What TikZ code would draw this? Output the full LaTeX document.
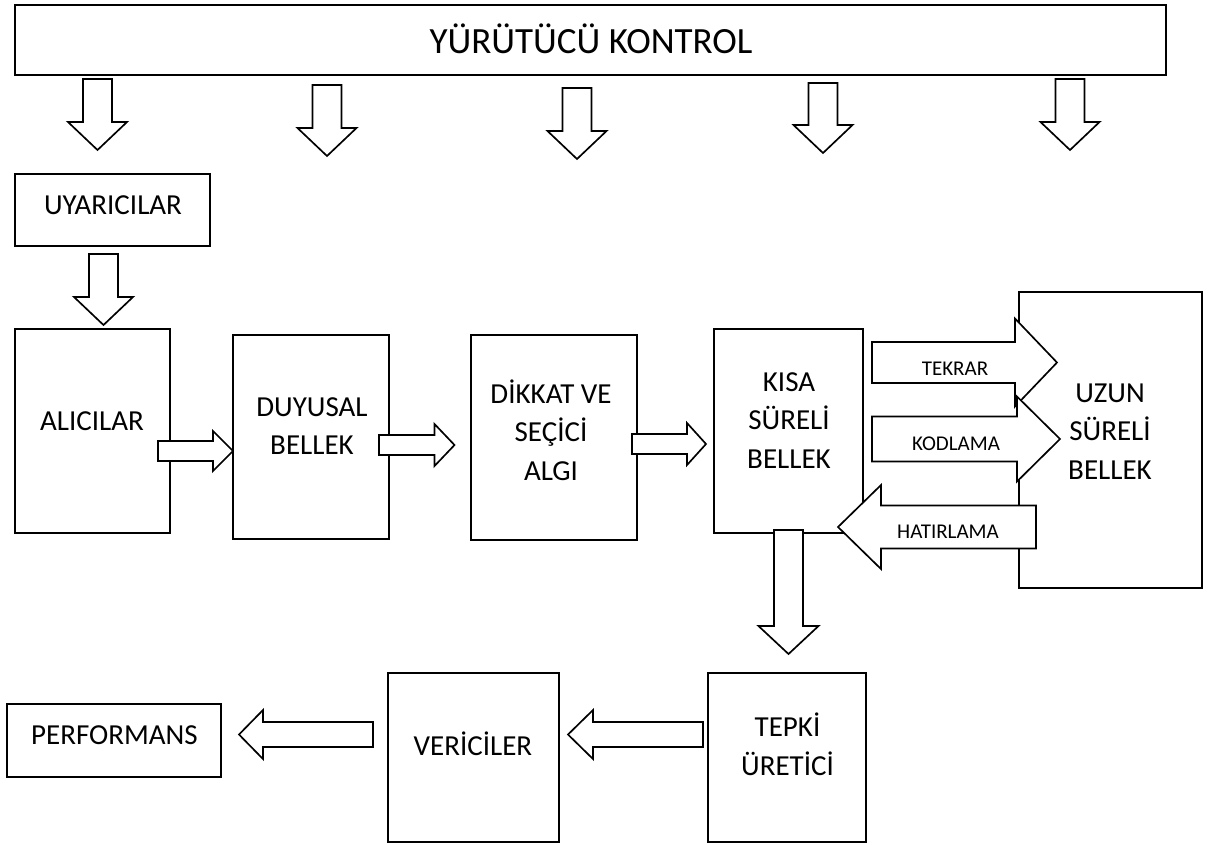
\documentclass[tikz,border=0pt]{standalone}
\usepackage{fontspec}
\setmainfont{Carlito}
\usetikzlibrary{calc,fit}
\begin{document}
\begin{tikzpicture}[x=0.75pt, y=-0.75pt,
  box/.style={draw, line width=1.7pt, inner sep=0pt, outer sep=0pt},
  blk/.style={draw, fill=white, line width=1.25pt, line join=miter},
  % block arrow pointing down: half shaft, half head, head length (px)
  dblk/.style n args={3}{blk, to path={let \p1=(\tikztostart), \p2=(\tikztotarget) in
     (\x1-#1*0.75pt,\y1) -- (\x1+#1*0.75pt,\y1) -- (\x1+#1*0.75pt,\y2+#3*0.75pt)
     -- (\x1+#2*0.75pt,\y2+#3*0.75pt) -- (\x1,\y2) -- (\x1-#2*0.75pt,\y2+#3*0.75pt)
     -- (\x1-#1*0.75pt,\y2+#3*0.75pt) -- cycle}},
  % block arrow pointing right
  rblk/.style n args={3}{blk, to path={let \p1=(\tikztostart), \p2=(\tikztotarget) in
     (\x1,\y1+#1*0.75pt) -- (\x2-#3*0.75pt,\y1+#1*0.75pt) -- (\x2-#3*0.75pt,\y1+#2*0.75pt)
     -- (\x2,\y1) -- (\x2-#3*0.75pt,\y1-#2*0.75pt) -- (\x2-#3*0.75pt,\y1-#1*0.75pt)
     -- (\x1,\y1-#1*0.75pt) -- cycle}},
  % block arrow pointing left
  lblk/.style n args={3}{blk, to path={let \p1=(\tikztostart), \p2=(\tikztotarget) in
     (\x1,\y1+#1*0.75pt) -- (\x2+#3*0.75pt,\y1+#1*0.75pt) -- (\x2+#3*0.75pt,\y1+#2*0.75pt)
     -- (\x2,\y1) -- (\x2+#3*0.75pt,\y1-#2*0.75pt) -- (\x2+#3*0.75pt,\y1-#1*0.75pt)
     -- (\x1,\y1-#1*0.75pt) -- cycle}},
  body/.style={font=\fontsize{21.75pt}{28.875pt}\selectfont, align=center, inner sep=0pt},
  head/.style={font=\fontsize{27.75pt}{36.6pt}\selectfont, inner sep=0pt},
  small/.style={font=\fontsize{15.75pt}{20.8pt}\selectfont, inner sep=0pt}
]
\useasboundingbox (0,0) rectangle (1219,844);

% boxes
\node[box, fit={(15,5) (1166,75)}] (ctrl) {};
\node[box, fit={(15,174) (210,246)}] (uyar) {};
\node[box, fit={(15,329) (170,533)}] (alic) {};
\node[box, fit={(233,335) (389,539)}] (duy) {};
\node[box, fit={(471,335) (637,540)}] (dik) {};
\node[box, fit={(714,329) (863,533)}] (kisa) {};
\node[box, fit={(1019,292) (1202,588)}] (uzun) {};
\node[box, fit={(708,673) (866,842)}] (tepki) {};
\node[box, fit={(388,673) (559,842)}] (veri) {};
\node[box, fit={(7,704) (221,777)}] (perf) {};

% box texts
\node[head] (ctrl-t) at (591,44) {\strut YÜRÜTÜCÜ KONTROL};
\node[body] (uyar-t) at (113,206.5) {\strut UYARICILAR};
\node[body] (alic-t) at (92,422.5) {\strut ALICILAR};
\node[body] (duy-t) at (312,427.7) {\strut DUYUSAL\\\strut BELLEK};
\node[body] (dik-t) at (551,434) {\strut DİKKAT VE\\\strut SEÇİCİ\\\strut ALGI};
\node[body] (kisa-t) at (789,422) {\strut KISA\\\strut SÜRELİ\\\strut BELLEK};
\node[body] (uzun-t) at (1110,433) {\strut UZUN\\\strut SÜRELİ\\\strut BELLEK};
\node[body] (tepki-t) at (787.5,748.2) {\strut TEPKİ\\\strut ÜRETİCİ};
\node[body] (veri-t) at (473,747.5) {\strut VERİCİLER};
\node[body] (perf-t) at (114.5,736.5) {\strut PERFORMANS};

% executive control arrows
\foreach \i/\x/\a/\b in {1/97.5/79/150, 2/327/85/156, 3/577/88/159, 4/823/83/153, 5/1070/79/150}{
  \coordinate (ks\i) at (\x,\a);
  \coordinate (kt\i) at (\x,\b);
  \draw[dblk={14.5}{29.5}{28}] (ks\i) to (kt\i);
}

% flow arrows
\coordinate (ua-s) at ($(uyar.south)+(-9,8)$);
\coordinate (ua-t) at ($(alic.north)+(11,-4)$);
\draw[dblk={14.5}{29.5}{28}] (ua-s) to (ua-t);

\coordinate (ad-s) at ($(alic.east)+(-12,20)$);
\coordinate (ad-t) at (duy.west |- ad-s);
\draw[rblk={10}{20}{20}] (ad-s) to (ad-t);

\coordinate (dd-s) at ($(duy.east)+(-10,8)$);
\coordinate (dd-t) at ($(dik.west)+(-16.5,7.5)$);
\draw[rblk={10}{21}{20}] (dd-s) to (dd-t);

\coordinate (dk-s) at ($(dik.east)+(-5,6.5)$);
\coordinate (dk-t) at ($(kisa.west)+(-8,13)$);
\draw[rblk={10}{21}{19}] (dk-s) to (dk-t);

\coordinate (kt-s) at ($(kisa.south)+(0,-3)$);
\coordinate (kt-t) at (kt-s |- 0,654);
\draw[dblk={14.5}{30}{28}] (kt-s) to (kt-t);

\coordinate (tv-s) at ($(tepki.west)+(-5,-23)$);
\coordinate (tv-t) at ($(veri.east)+(9,-23)$);
\draw[lblk={12.5}{24.5}{25}] (tv-s) to (tv-t);

\coordinate (vp-s) at ($(veri.west)+(-15,-23)$);
\coordinate (vp-t) at ($(perf.east)+(18,-6)$);
\draw[lblk={12.5}{24.5}{24}] (vp-s) to (vp-t);

% memory loops
\coordinate (tk-s) at ($(kisa.east)+(9,-68.5)$);
\coordinate (tk-t) at ($(uzun.west)+(38,-77.5)$);
\draw[rblk={20.5}{44}{42}] (tk-s) to (tk-t);

\coordinate (kd-s) at ($(kisa.east)+(9,8)$);
\coordinate (kd-t) at ($(uzun.west)+(41,-1)$);
\draw[rblk={22.5}{42.5}{43}] (kd-s) to (kd-t);

\coordinate (ht-s) at ($(uzun.west)+(17,87)$);
\coordinate (ht-t) at ($(kisa.east)+(-25,96)$);
\draw[lblk={21.5}{42}{43}] (ht-s) to (ht-t);

\node[small] (tk-l) at (955,369.6) {\strut TEKRAR};
\node[small] (kd-l) at (956,444.6) {\strut KODLAMA};
\node[small] (ht-l) at (948,532.6) {\strut HATIRLAMA};
\end{tikzpicture}
\end{document}
